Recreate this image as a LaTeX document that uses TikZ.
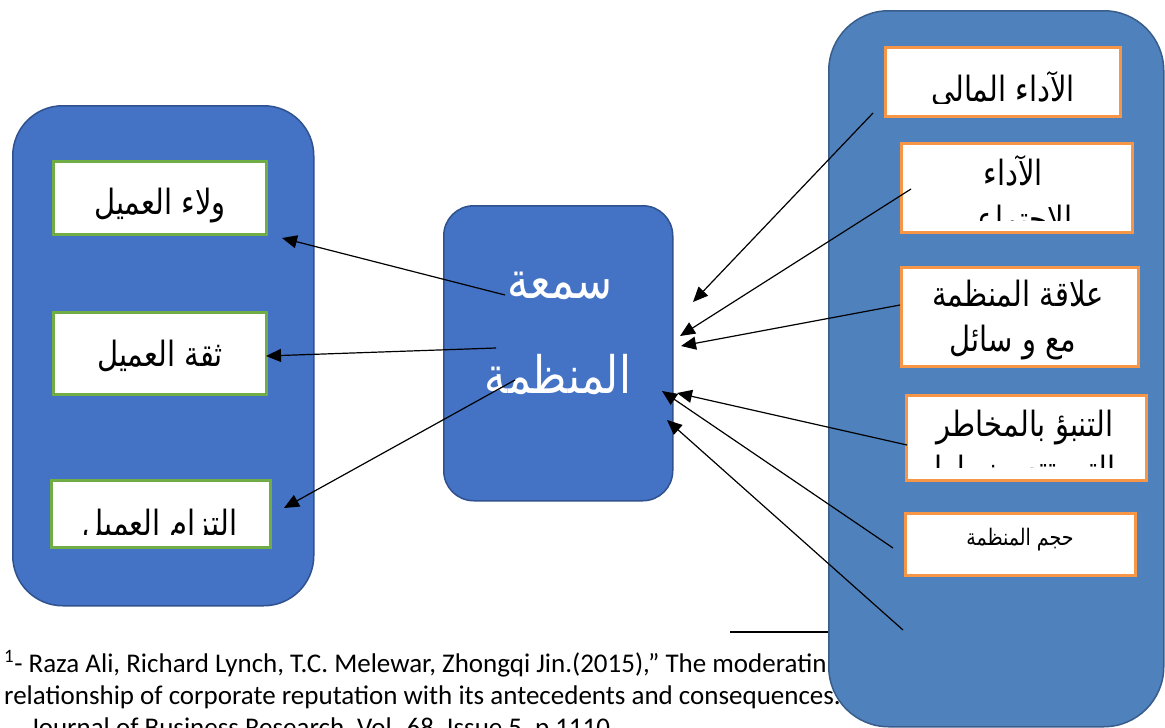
\documentclass[tikz,border=0pt]{standalone}
\usepackage{fontspec}
\setmainfont{Carlito}
\newfontfamily\arabicfont[Script=Arabic]{DejaVu Sans}
\TeXXeTstate=1
\usetikzlibrary{arrows.meta}
\definecolor{blueA}{HTML}{4472C4}
\definecolor{blueAb}{HTML}{2F528F}
\definecolor{blueB}{HTML}{4F81BD}
\definecolor{blueBb}{HTML}{385D8A}
\definecolor{greenb}{HTML}{70AD47}
\definecolor{orangeb}{HTML}{F79646}
\newcommand{\artx}[1]{\scalebox{1}[1.2]{\beginR #1\endR}}
\begin{document}
\begin{tikzpicture}[x=1pt,y=-1pt,
  bigA/.style={draw=blueAb, fill=blueA, line width=1.5pt, anchor=north west, inner sep=0pt},
  bigB/.style={draw=blueBb, fill=blueB, line width=1.5pt, anchor=north west, inner sep=0pt, rounded corners=60pt},
  gbox/.style={draw=greenb, fill=white, line width=2.8pt, anchor=north west, inner sep=0pt},
  obox/.style={draw=orangeb, fill=white, line width=2.8pt, anchor=north west, inner sep=0pt},
  artxt/.style={anchor=base, inner sep=0pt, font=\arabicfont\fontsize{29}{33}\selectfont},
  bigtxt/.style={artxt, text=white, font=\arabicfont\fontsize{43}{48}\selectfont},
  foot/.style={anchor=base west, inner sep=0pt, font=\fontsize{27}{32}\selectfont},
  arr/.style={-{Triangle[length=15pt,width=13pt]}, line width=1.2pt, black}
]
\useasboundingbox (0,0) rectangle (1165,728);
\fill[white] (0,0) rectangle (1165,728);

% footnote
\draw[line width=1.2pt] (730,632) -- (828,632);
\node[foot] (f1) at (4,672) {\textsuperscript{1}- Raza Ali, Richard Lynch, T.C. Melewar, Zhongqi Jin.(2015),\symbol{34} The moderatin};
\node[foot] (f2) at (4,704) {relationship of corporate reputation with its antecedents and consequences.};
\node[foot] (f3) at (30,736) {Journal of Business Research, Vol. 68, Issue 5, p 1110};

% big boxes
\node[bigA, rounded corners=50pt, minimum width=301pt, minimum height=500pt] (L) at (12,105) {};
\node[bigA, rounded corners=30pt, minimum width=229pt, minimum height=295pt] (C) at (443,205) {};
\node[bigB, minimum width=335pt, minimum height=716pt] (R) at (828,10) {};

% center text
\node[bigtxt] (c1) at (560,298) {\artx{سمعة}};
\node[bigtxt] (c2) at (558,393) {\artx{المنظمة}};

% left inner boxes
\node[gbox, minimum width=213pt, minimum height=73pt] (L1) at (52,160) {};
\node[artxt] (t1) at (160,214) {\artx{ولاء العميل}};
\node[gbox, minimum width=213pt, minimum height=82pt] (L2) at (52,311) {};
\node[artxt] (t2) at (160,366) {\artx{ثقة العميل}};
\node[gbox, minimum width=219pt, minimum height=67pt] (L3) at (50,479) {};
\begin{scope}
\clip (51,480) rectangle (268,534);
\node[artxt] (t3) at (160,535) {\artx{التزام العميل}};
\end{scope}

% right inner boxes
\node[obox, minimum width=235pt, minimum height=69pt] (R1) at (884,46) {};
\begin{scope}
\clip (885,47) rectangle (1118,103);
\node[artxt] (r1) at (1003,101) {\artx{الآداء المالي}};
\end{scope}
\node[obox, minimum width=231pt, minimum height=89pt] (R2) at (900,142) {};
\begin{scope}
\clip (901,143) rectangle (1130,220);
\node[artxt] (r2a) at (1013,185) {\artx{الآداء}};
\node[artxt] (r2b) at (1013,231) {\artx{الاجتماعي}};
\end{scope}
\node[obox, minimum width=237pt, minimum height=99pt] (R3) at (900,266) {};
\node[artxt] (r3a) at (1018,306) {\artx{علاقة المنظمة}};
\node[artxt] (r3b) at (1013,351) {\artx{مع و سائل}};
\node[obox, minimum width=240pt, minimum height=85pt] (R4) at (905,394) {};
\begin{scope}
\clip (906,395) rectangle (1144,467);
\node[artxt] (r4a) at (1025,436) {\artx{التنبؤ بالمخاطر}};
\node[artxt] (r4b) at (1025,481) {\artx{التي تتعرض لها}};
\end{scope}
\node[obox, minimum width=230pt, minimum height=62pt] (R5) at (904,512) {};
\node[artxt, font=\arabicfont\fontsize{19}{22}\selectfont] (r5) at (1020,545) {\artx{حجم المنظمة}};

% arrow end points
\coordinate (a1s) at (505,295); \coordinate (a1e) at (282,238);
\coordinate (a2s) at (496,348); \coordinate (a2e) at (266,356);
\coordinate (a3s) at (515,380); \coordinate (a3e) at (284,508);
\coordinate (b1s) at (873,113); \coordinate (b1e) at (693,302);
\coordinate (b2s) at (911,189); \coordinate (b2e) at (680,336);
\coordinate (b3s) at (900,305); \coordinate (b3e) at (681,346);
\coordinate (b4s) at (907,445); \coordinate (b4e) at (677,393);
\coordinate (b5s) at (893,548); \coordinate (b5e) at (662,391);
\coordinate (b6s) at (903,630); \coordinate (b6e) at (667,420);

\draw[arr] (a1s) -- (a1e);
\draw[arr] (a2s) -- (a2e);
\draw[arr] (a3s) -- (a3e);
\draw[arr] (b1s) -- (b1e);
\draw[arr] (b2s) -- (b2e);
\draw[arr] (b3s) -- (b3e);
\draw[arr] (b4s) -- (b4e);
\draw[arr] (b5s) -- (b5e);
\draw[arr] (b6s) -- (b6e);
\end{tikzpicture}
\end{document}
